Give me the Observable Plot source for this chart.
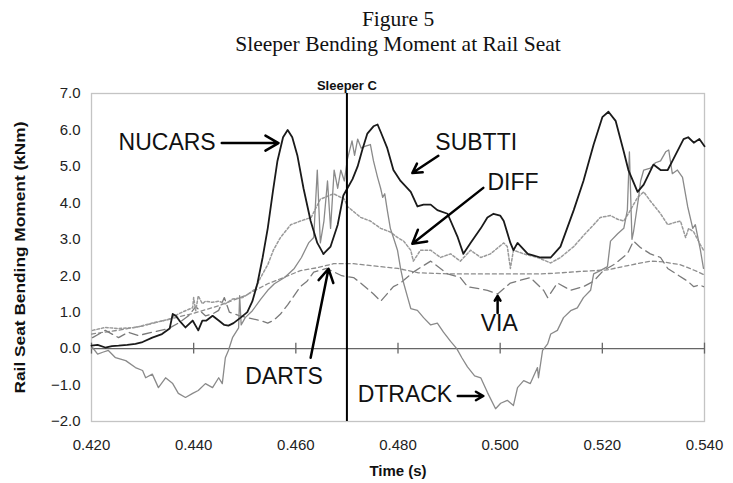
<!DOCTYPE html>
<html><head><meta charset="utf-8">
<script src="https://cdn.jsdelivr.net/npm/d3@7"></script>
<script src="https://cdn.jsdelivr.net/npm/@observablehq/plot@0.6"></script>
<style>body{margin:0;background:#fff}#chart{width:733px;height:483px}</style>
</head><body><div id="chart"></div>
<script>
const titleLines = ["Figure 5", "Sleeper Bending Moment at Rail Seat"];
const xLabel = "Time (s)";
const yLabel = "Rail Seat Bending Moment (kNm)";
const markerLabel = "Sleeper C";
const markerTime = 0.47;
const xTicks = [0.42, 0.44, 0.46, 0.48, 0.50, 0.52, 0.54];
const yTicks = [-2, -1, 0, 1, 2, 3, 4, 5, 6, 7];

// [time (s), moment (kNm)]
const nucars = [[0.4200,0.08],[0.4212,0.1],[0.4227,0.03],[0.4240,0.07],[0.4253,0.08],[0.4270,0.1],[0.4286,0.13],[0.4300,0.18],[0.4319,0.3],[0.4338,0.4],[0.4353,0.55],[0.4359,0.95],[0.4365,0.9],[0.4372,0.77],[0.4384,0.58],[0.4398,0.77],[0.4409,0.5],[0.4417,0.77],[0.4425,0.77],[0.4437,0.9],[0.4449,0.77],[0.4460,0.65],[0.4468,0.63],[0.4478,0.7],[0.4492,0.85],[0.4505,1.0],[0.4515,1.3],[0.4525,1.8],[0.4535,2.5],[0.4545,3.3],[0.4555,4.3],[0.4564,5.15],[0.4575,5.8],[0.4584,6.0],[0.4593,5.8],[0.4603,5.3],[0.4615,4.4],[0.4629,3.5],[0.4642,2.9],[0.4654,2.6]];
const subtti = [[0.4654,2.6],[0.4668,2.8],[0.4682,3.4],[0.4693,4.2],[0.4701,4.4],[0.4711,4.65],[0.4721,5.0],[0.4730,5.45],[0.4740,5.9],[0.4752,6.1],[0.4760,6.15],[0.4766,5.95],[0.4779,5.5],[0.4791,4.9],[0.4805,4.6],[0.4825,4.3],[0.4838,3.9],[0.4850,3.95],[0.4864,3.95],[0.4877,3.8],[0.4897,3.7],[0.4917,3.05],[0.4928,2.6],[0.4942,2.9],[0.4962,3.3],[0.4975,3.6],[0.4987,3.7],[0.5000,3.65],[0.5007,3.5],[0.5020,2.9],[0.5026,2.7],[0.5034,2.9],[0.5054,2.6],[0.5079,2.5],[0.5099,2.5],[0.5118,2.8],[0.5144,3.8],[0.5163,4.6],[0.5183,5.6],[0.5200,6.35],[0.5212,6.5],[0.5226,6.25],[0.5242,5.4],[0.5251,4.9],[0.5269,4.3],[0.5281,4.5],[0.5300,5.05],[0.5314,4.9],[0.5328,4.9],[0.5339,5.2],[0.5359,5.75],[0.5368,5.8],[0.5379,5.65],[0.5390,5.75],[0.5400,5.55]];
const dtrack = [[0.4200,0.0],[0.4202,0.03],[0.4212,-0.15],[0.4222,-0.1],[0.4233,-0.05],[0.4247,-0.25],[0.4267,-0.33],[0.4286,-0.52],[0.4300,-0.6],[0.4306,-0.8],[0.4319,-0.7],[0.4331,-1.07],[0.4345,-0.8],[0.4359,-0.96],[0.4370,-1.23],[0.4384,-1.34],[0.4398,-1.23],[0.4409,-1.15],[0.4423,-0.96],[0.4437,-1.07],[0.4449,-0.8],[0.4456,-0.96],[0.4462,-0.25],[0.4468,-0.05],[0.4476,0.3],[0.4488,0.57],[0.4490,1.45],[0.4493,0.65],[0.4501,0.85],[0.4515,1.04],[0.4531,1.35],[0.4545,1.6],[0.4558,1.78],[0.4578,1.95],[0.4597,2.2],[0.4611,2.5],[0.4625,2.9],[0.4635,3.05],[0.4642,4.9],[0.4648,2.9],[0.4655,3.5],[0.4662,4.6],[0.4668,3.3],[0.4675,4.9],[0.4682,4.4],[0.4688,4.9],[0.4695,4.6],[0.4701,5.2],[0.4710,5.7],[0.4715,5.3],[0.4721,5.75],[0.4728,5.5],[0.4735,5.55],[0.4746,5.6],[0.4752,5.15],[0.4760,4.7],[0.4766,4.4],[0.4770,4.15],[0.4774,4.25],[0.4779,3.8],[0.4785,3.3],[0.4791,3.05],[0.4799,2.7],[0.4805,2.2],[0.4811,1.8],[0.4819,1.4],[0.4825,1.1],[0.4838,1.05],[0.4850,0.85],[0.4864,0.65],[0.4877,0.7],[0.4889,0.45],[0.4903,0.2],[0.4915,0.0],[0.4925,-0.25],[0.4936,-0.5],[0.4950,-0.75],[0.4962,-0.8],[0.4975,-1.2],[0.4991,-1.65],[0.5001,-1.5],[0.5014,-1.42],[0.5026,-1.56],[0.5034,-1.07],[0.5046,-0.88],[0.5059,-0.96],[0.5073,-0.52],[0.5075,-0.8],[0.5083,-0.05],[0.5093,0.13],[0.5099,0.4],[0.5112,0.5],[0.5124,0.85],[0.5138,1.04],[0.5151,1.12],[0.5163,1.4],[0.5177,1.6],[0.5183,2.05],[0.5196,2.14],[0.5210,2.25],[0.5216,2.95],[0.5230,3.15],[0.5242,3.3],[0.5249,3.8],[0.5253,5.4],[0.5258,3.0],[0.5261,3.2],[0.5271,4.15],[0.5275,4.6],[0.5281,4.9],[0.5294,4.95],[0.5304,5.1],[0.5314,5.15],[0.5324,5.4],[0.5330,5.45],[0.5337,4.8],[0.5347,4.9],[0.5357,4.7],[0.5367,3.9],[0.5377,3.3],[0.5382,3.4],[0.5392,2.7],[0.5398,2.2]];
const diff = [[0.4202,0.5],[0.4227,0.58],[0.4253,0.55],[0.4286,0.58],[0.4319,0.7],[0.4351,0.8],[0.4370,0.95],[0.4384,1.04],[0.4398,1.12],[0.4400,1.4],[0.4404,1.04],[0.4409,1.45],[0.4417,1.23],[0.4423,1.3],[0.4437,1.27],[0.4449,1.3],[0.4462,1.23],[0.4476,1.36],[0.4496,1.4],[0.4507,1.5],[0.4521,1.64],[0.4531,1.95],[0.4545,2.3],[0.4556,2.7],[0.4570,3.05],[0.4590,3.4],[0.4609,3.5],[0.4630,3.6],[0.4648,4.1],[0.4674,4.25],[0.4695,4.1],[0.4701,3.9],[0.4727,3.6],[0.4746,3.5],[0.4766,3.3],[0.4785,3.2],[0.4799,3.05],[0.4811,2.95],[0.4825,2.7],[0.4830,2.4],[0.4844,2.7],[0.4864,2.7],[0.4883,2.5],[0.4903,2.6],[0.4922,2.4],[0.4942,2.7],[0.4962,2.5],[0.4981,2.6],[0.5007,2.9],[0.5014,2.8],[0.5020,2.2],[0.5026,2.7],[0.5046,2.6],[0.5073,2.5],[0.5099,2.35],[0.5118,2.5],[0.5144,2.8],[0.5163,3.1],[0.5183,3.4],[0.5196,3.6],[0.5216,3.65],[0.5230,3.55],[0.5242,3.5],[0.5255,3.8],[0.5269,4.15],[0.5281,4.3],[0.5294,4.05],[0.5314,3.7],[0.5328,3.4],[0.5339,3.45],[0.5353,3.5],[0.5363,3.05],[0.5369,3.3],[0.5379,3.2],[0.5392,2.85],[0.5398,2.7]];
const via = [[0.4202,0.3],[0.4227,0.5],[0.4253,0.3],[0.4272,0.45],[0.4292,0.36],[0.4319,0.45],[0.4351,0.55],[0.4370,0.7],[0.4390,0.9],[0.4404,1.15],[0.4423,0.9],[0.4437,0.95],[0.4449,1.05],[0.4460,1.4],[0.4470,1.0],[0.4490,0.9],[0.4505,0.85],[0.4531,0.77],[0.4545,0.7],[0.4556,0.77],[0.4570,0.95],[0.4584,1.2],[0.4609,1.7],[0.4622,1.85],[0.4635,2.1],[0.4660,2.2],[0.4690,2.0],[0.4713,1.95],[0.4727,1.8],[0.4752,1.5],[0.4766,1.3],[0.4791,1.7],[0.4805,1.8],[0.4830,2.1],[0.4864,2.4],[0.4897,2.05],[0.4922,1.95],[0.4936,1.7],[0.4975,1.6],[0.4995,1.5],[0.5020,1.8],[0.5059,1.95],[0.5085,1.6],[0.5093,1.4],[0.5112,1.8],[0.5138,1.6],[0.5163,1.7],[0.5183,1.85],[0.5202,2.14],[0.5222,2.3],[0.5249,2.6],[0.5261,2.95],[0.5275,2.77],[0.5294,2.6],[0.5314,2.5],[0.5328,2.2],[0.5350,2.0],[0.5367,1.85],[0.5379,1.7],[0.5390,1.75],[0.5398,1.7]];
const darts = [[0.4200,0.4],[0.4250,0.5],[0.4300,0.62],[0.4350,0.8],[0.4400,0.97],[0.4450,1.18],[0.4500,1.45],[0.4545,1.78],[0.4576,1.95],[0.4609,2.14],[0.4642,2.22],[0.4674,2.33],[0.4713,2.33],[0.4752,2.27],[0.4800,2.2],[0.4840,2.08],[0.4900,2.05],[0.4950,2.05],[0.5000,2.05],[0.5050,2.05],[0.5079,2.05],[0.5120,2.08],[0.5160,2.12],[0.5210,2.16],[0.5250,2.28],[0.5294,2.4],[0.5320,2.38],[0.5353,2.3],[0.5380,2.15],[0.5400,2.02]];

// annotation labels: [label, start time, moment]
const annLabels = [["NUCARS",0.4253,5.64],["SUBTTI",0.4873,5.64],["DIFF",0.4975,4.55],["VIA",0.4962,0.68],["DARTS",0.4501,-0.77],["DTRACK",0.4721,-1.25]];
// annotation arrows: [x1, y1, x2, y2]
const annArrows = [[0.4455,5.64,0.4566,5.64],[0.4879,5.29,0.4828,4.82],[0.4967,4.41,0.4828,2.88],[0.4995,0.98,0.4995,1.45],[0.4629,-0.25,0.4664,2.19],[0.4917,-1.3,0.4967,-1.3]];

const rows = a => a.map(([t, m]) => ({t, m}));
const sans = "'Liberation Sans', Arial, Helvetica, sans-serif";
const serif = "'Liberation Serif', 'Times New Roman', serif";

const chart = Plot.plot({
  width: 733, height: 483,
  marginTop: 93, marginBottom: 62, marginLeft: 91, marginRight: 29,
  style: {fontFamily: sans, fontSize: "15px", background: "#fff", color: "#222", overflow: "visible"},
  x: {domain: [0.42, 0.54], ticks: xTicks, tickFormat: d3.format(".3f"), tickSize: 0, tickPadding: 18, label: null},
  y: {domain: [-2, 7], ticks: yTicks, tickFormat: d3.format(".1f"), tickSize: 0, tickPadding: 11, label: null},
  marks: [
    Plot.frame({stroke: "#c4c4c4", strokeWidth: 1.3}),
    Plot.ruleY([0], {stroke: "#666", strokeWidth: 1.3}),
    Plot.ruleX(xTicks, {y1: -0.15, y2: 0.15, stroke: "#666", strokeWidth: 1.3}),
    Plot.line(rows(darts), {x: "t", y: "m", stroke: "#8c8c8c", strokeWidth: 1.3, strokeDasharray: "4,3"}),
    Plot.line(rows(via), {x: "t", y: "m", stroke: "#7a7a7a", strokeWidth: 1.3, strokeDasharray: "9,5"}),
    Plot.line(rows(diff), {x: "t", y: "m", stroke: "#9a9a9a", strokeWidth: 1.5, strokeDasharray: "2.5,2"}),
    Plot.line(rows(dtrack), {x: "t", y: "m", stroke: "#8a8a8a", strokeWidth: 1.3}),
    Plot.line(rows(nucars), {x: "t", y: "m", stroke: "#1a1a1a", strokeWidth: 1.8}),
    Plot.line(rows(subtti), {x: "t", y: "m", stroke: "#1a1a1a", strokeWidth: 1.8}),
    Plot.ruleX([markerTime], {stroke: "#000", strokeWidth: 2}),
    Plot.text([markerLabel], {x: markerTime, frameAnchor: "top", lineAnchor: "middle", dy: -8, fontWeight: "bold", fontSize: 13, fill: "#111"}),
    Plot.arrow(annArrows, {x1: d => d[0], y1: d => d[1], x2: d => d[2], y2: d => d[3], stroke: "#000", strokeWidth: 2.5, headLength: 9}),
    Plot.text(annLabels, {x: d => d[1], y: d => d[2], text: d => d[0], textAnchor: "start", fontSize: 23, fill: "#111"}),
    Plot.text([titleLines[0]], {frameAnchor: "top", lineAnchor: "middle", dy: -74, fontFamily: serif, fontSize: 21.5, fill: "#111"}),
    Plot.text([titleLines[1]], {frameAnchor: "top", lineAnchor: "middle", dy: -49, fontFamily: serif, fontSize: 21.5, fill: "#111"}),
    Plot.text([yLabel], {frameAnchor: "left", textAnchor: "middle", lineAnchor: "middle", dx: -71, rotate: -90, fontWeight: "bold", fontSize: 15, fill: "#111", className: "ylab"}),
    Plot.text([xLabel], {frameAnchor: "bottom", lineAnchor: "middle", dy: 50, fontWeight: "bold", fontSize: 15, fill: "#111"})
  ]
});
// stretch the rotated y-axis title to the length it has in the reference
d3.select(chart).selectAll(".ylab text").attr("textLength", 272).attr("lengthAdjust", "spacingAndGlyphs");
document.getElementById("chart").append(chart);
</script>
</body></html>
